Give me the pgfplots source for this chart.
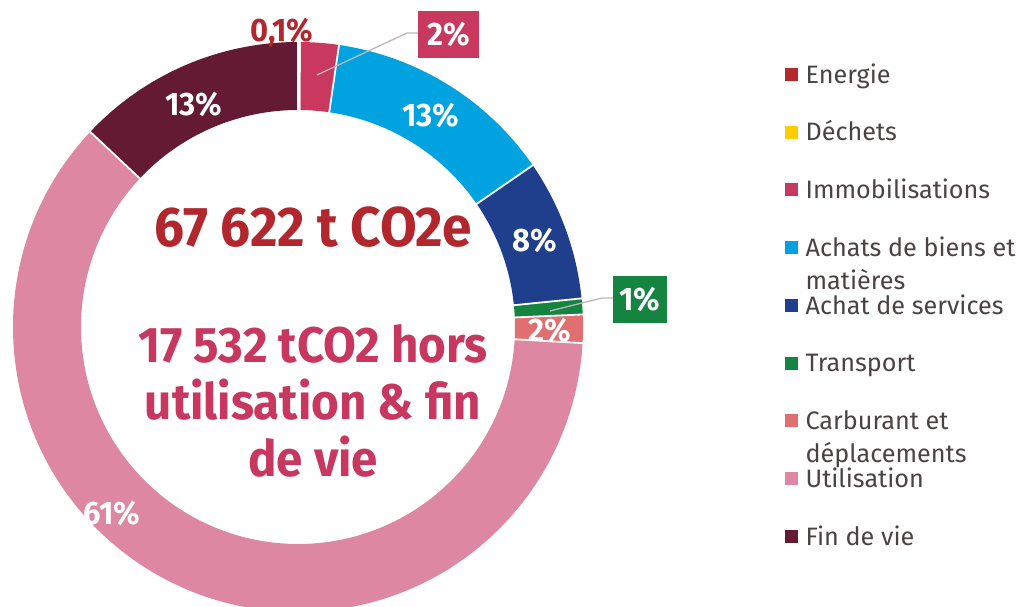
\documentclass[border=0pt]{standalone}
\usepackage{pgfplots}
\pgfplotsset{compat=1.18}
\usepackage{pgfplotstable}
\usepackage{fontspec}
\setmainfont{Fira Sans}
\newfontfamily\cond[FakeStretch=0.95]{Fira Sans}

\definecolor{c0}{HTML}{B22A2E}
\definecolor{c1}{HTML}{FFCC00}
\definecolor{c2}{HTML}{C8385F}
\definecolor{c3}{HTML}{00A3DF}
\definecolor{c4}{HTML}{1F3E8C}
\definecolor{c5}{HTML}{148440}
\definecolor{c6}{HTML}{E06F71}
\definecolor{c7}{HTML}{DE87A2}
\definecolor{c8}{HTML}{641A33}
\definecolor{txtred}{HTML}{B1272D}
\definecolor{txtpink}{HTML}{C8375F}
\definecolor{legtxt}{HTML}{4A4243}
\definecolor{leader}{HTML}{BFB6B6}

% shares in percent, clockwise from 12 o'clock
\pgfplotstableread{
idx share
0 0.1
1 0.0
2 2.2
3 13.1
4 8.0
5 0.9
6 1.6
7 61.1
8 13.0
}\shares

\gdef\cumS{0}
\pgfplotstableforeachcolumnelement{share}\of\shares\as\val{%
  \pgfmathsetmacro\angA{90-3.6*\cumS}%
  \pgfmathsetmacro\cumN{\cumS+\val}%
  \pgfmathsetmacro\angB{90-3.6*\cumN}%
  \expandafter\xdef\csname sA\pgfplotstablerow\endcsname{\angA}%
  \expandafter\xdef\csname sB\pgfplotstablerow\endcsname{\angB}%
  \xdef\cumS{\cumN}%
}

\def\Rin{217bp}
\def\Rout{285bp}
\newcommand\sector[1]{%
  \edef\temp{\noexpand\fill[c#1] ([shift={(\csname sA#1\endcsname:\Rin)}]axis cs:0,0)
    arc[start angle=\csname sA#1\endcsname, end angle=\csname sB#1\endcsname, radius=\Rin]
    -- ([shift={(\csname sB#1\endcsname:\Rout)}]axis cs:0,0)
    arc[start angle=\csname sB#1\endcsname, end angle=\csname sA#1\endcsname, radius=\Rout] -- cycle;}%
  \temp}
\newcommand\separator[1]{%
  \edef\temp{\noexpand\draw[white, line width=1.8bp] ([shift={(\csname sA#1\endcsname:214bp)}]axis cs:0,0)
    -- ([shift={(\csname sA#1\endcsname:288bp)}]axis cs:0,0);}%
  \temp}

\newcommand\lab{\cond\bfseries\fontsize{32.5bp}{32.5bp}\selectfont}
\newcommand\bigA{\cond\bfseries\fontsize{56bp}{56bp}\selectfont}
\newcommand\bigB{\cond\bfseries\fontsize{50bp}{50bp}\selectfont}

\begin{document}
\begin{tikzpicture}
\begin{axis}[
  name=ax,
  x=1bp, y=1bp,
  xmin=-298, xmax=724, ymin=-280, ymax=327,
  hide axis,
  legend cell align=left,
  legend image code/.code={\fill[#1] (0bp,-3bp) rectangle (12bp,9bp);},
  legend style={at={(axis cs:487,262)}, anchor=north west, draw=none, fill=none,
    inner sep=0pt, row sep=33.75bp, column sep=8bp,
    font=\fontsize{25.2bp}{33bp}\selectfont, text=legtxt,
    nodes={inner sep=0pt, text height=18bp, text depth=6bp}},
]
\pgfplotsinvokeforeach{0,1,2,3,4,5,6,7,8}{\sector{#1}}
\pgfplotsinvokeforeach{0,1,2,3,4,5,6,7,8}{\separator{#1}}

% center texts
\node[anchor=base, text=txtred, font=\bigA] at (axis cs:15,80) {67 622 t CO2e};
\node[anchor=base, text=txtpink, font=\bigB] at (axis cs:15,-36) {17 532 tCO2 hors};
\node[anchor=base, text=txtpink, font=\bigB] at (axis cs:15,-93) {utilisation \& fin};
\node[anchor=base, text=txtpink, font=\bigB] at (axis cs:15,-150) {de vie};

% slice labels
\node[anchor=base, text=txtred, font=\lab] at (axis cs:-16,285) {0,1\%};
\draw[leader, line width=1.3bp] (axis cs:19,252) -- (axis cs:109,294) -- (axis cs:120,294);
\node[fill=c2, text=white, font=\lab, minimum width=61bp, minimum height=47bp, inner sep=0pt] at (axis cs:150.5,292.5) {2\%};
\node[text=white, font=\lab] at (axis cs:133,212) {13\%};
\node[text=white, font=\lab] at (axis cs:237,87) {8\%};
\draw[leader, line width=1.3bp] (axis cs:252,16) -- (axis cs:304,29) -- (axis cs:315,29);
\node[fill=c5, text=white, font=\lab, minimum width=54bp, minimum height=47bp, inner sep=0pt] at (axis cs:342,27.5) {1\%};
\node[text=white, font=\lab] at (axis cs:252,-3) {2\%};
\node[text=white, font=\lab] at (axis cs:-186,-186) {61\%};
\node[text=white, font=\lab] at (axis cs:-104,223) {13\%};

\addlegendimage{c0}\addlegendentry{Energie}
\addlegendimage{c1}\addlegendentry{Déchets}
\addlegendimage{c2}\addlegendentry{Immobilisations}
\addlegendimage{c3}\addlegendentry{\begin{tabular}[t]{@{}l@{}}Achats de biens et\\matières\end{tabular}}
\addlegendimage{c4}\addlegendentry{Achat de services}
\addlegendimage{c5}\addlegendentry{Transport}
\addlegendimage{c6}\addlegendentry{\begin{tabular}[t]{@{}l@{}}Carburant et\\déplacements\end{tabular}}
\addlegendimage{c7}\addlegendentry{Utilisation}
\addlegendimage{c8}\addlegendentry{Fin de vie}
\end{axis}
\pgfresetboundingbox
\path[use as bounding box] (ax.south west) rectangle (ax.north east);
\end{tikzpicture}
\end{document}
